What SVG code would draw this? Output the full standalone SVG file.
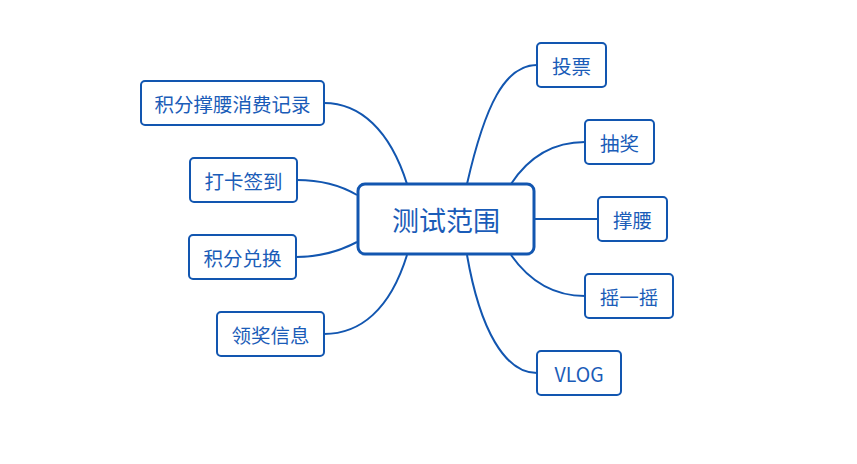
<svg xmlns="http://www.w3.org/2000/svg" width="857" height="464" viewBox="0 0 857 464">
<style>
.n rect{fill:#fff;stroke:#1256b0;stroke-width:2}
.c rect{fill:#fff;stroke:#1256b0;stroke-width:3}
text{font-family:"Noto Sans CJK SC","Noto Sans",sans-serif;fill:#1a5cb8;text-anchor:middle;dominant-baseline:central;font-size:19.5px}
.c text{font-size:27px}
#links path{fill:none;stroke:#1256b0;stroke-width:2}
</style>
<rect width="857" height="464" fill="#fff"/>
<g id="links">
<path d="M467,184 C485,105 505,65 537,65"/>
<path d="M511,184 C530,155 555,142 585,142"/>
<path d="M535,219 L598,219"/>
<path d="M511,255 C530,282 555,296 585,296"/>
<path d="M467,255 C480,330 505,373 537,373"/>
<path d="M407,184 C390,130 360,103 324,103"/>
<path d="M357,195 C340,185 320,180 297,180"/>
<path d="M357,242 C340,251 320,257 296,257"/>
<path d="M407,255 C390,310 360,334 324,334"/>
</g>
<g id="center" class="c"><rect x="358" y="184" width="176" height="70" rx="7"/><text x="446" y="219">测试范围</text></g>
<g id="n1" class="n"><rect x="141" y="81" width="183" height="44" rx="4"/><text x="232.5" y="103">积分撑腰消费记录</text></g>
<g id="n2" class="n"><rect x="190" y="158" width="107" height="44" rx="4"/><text x="243.5" y="180">打卡签到</text></g>
<g id="n3" class="n"><rect x="189" y="235" width="107" height="44" rx="4"/><text x="242.5" y="257">积分兑换</text></g>
<g id="n4" class="n"><rect x="217" y="312" width="107" height="44" rx="4"/><text x="270.5" y="334">领奖信息</text></g>
<g id="n5" class="n"><rect x="537" y="43" width="69" height="44" rx="4"/><text x="571.5" y="65">投票</text></g>
<g id="n6" class="n"><rect x="585" y="120" width="69" height="44" rx="4"/><text x="619.5" y="142">抽奖</text></g>
<g id="n7" class="n"><rect x="598" y="197" width="69" height="44" rx="4"/><text x="632.5" y="219">撑腰</text></g>
<g id="n8" class="n"><rect x="585" y="274" width="88" height="44" rx="4"/><text x="629" y="296">摇一摇</text></g>
<g id="n9" class="n"><rect x="537" y="351" width="84" height="44" rx="4"/><text x="579" y="373">VLOG</text></g>
</svg>
